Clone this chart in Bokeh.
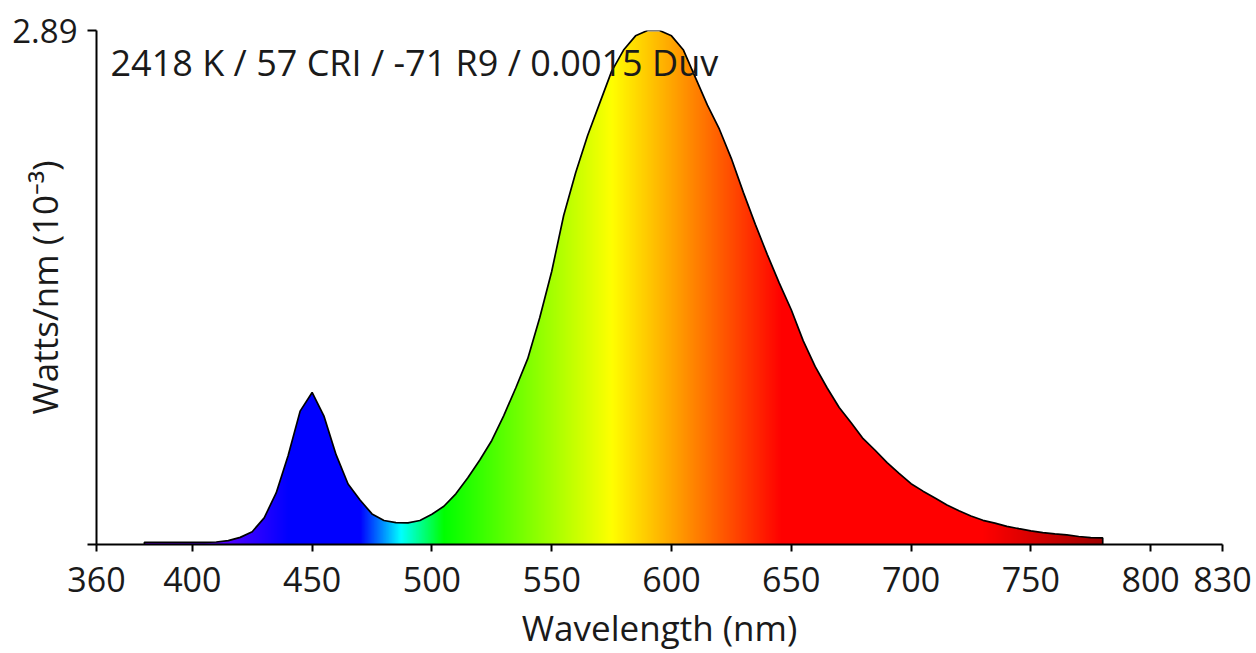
import numpy as np
from bokeh.plotting import figure
from bokeh.models import Range1d, FixedTicker, Label
from bokeh.embed import file_html
from bokeh.resources import INLINE

# ---------------- data ----------------
wavelengths = list(range(380, 785, 5))          # nm, 380 .. 780
watts = [
    0.012, 0.012, 0.012, 0.012, 0.012, 0.012, 0.014, 0.022,   # 380-415
    0.040, 0.072, 0.150, 0.290, 0.500, 0.750, 0.855, 0.720,   # 420-455
    0.505, 0.340, 0.250, 0.172, 0.135, 0.123, 0.122, 0.135,   # 460-495
    0.170, 0.215, 0.285, 0.375, 0.475, 0.585, 0.725, 0.880,   # 500-535
    1.045, 1.275, 1.535, 1.850, 2.090, 2.300, 2.480, 2.660,   # 540-575
    2.780, 2.860, 2.890, 2.890, 2.860, 2.780, 2.625, 2.470,   # 580-615
    2.335, 2.170, 1.980, 1.800, 1.630, 1.470, 1.320, 1.145,   # 620-655
    1.000, 0.880, 0.770, 0.685, 0.595, 0.530, 0.460, 0.400,   # 660-695
    0.342, 0.300, 0.262, 0.222, 0.190, 0.160, 0.136, 0.120,   # 700-735
    0.102, 0.089, 0.077, 0.067, 0.060, 0.054, 0.045, 0.039,   # 740-775
    0.037,                                                    # 780
]
x_ticks = [360, 400, 450, 500, 550, 600, 650, 700, 750, 800, 830]
y_ticks = [0, 2.89]
x_start, x_end = 360, 830
y_start, y_end = 0, 2.89
info_text = "2418 K / 57 CRI / -71 R9 / 0.0015 Duv"
x_title = "Wavelength (nm)"
y_title = "Watts/nm (10\u207b\u00b3)"

# ---------------- style ----------------
FONT = "Open Sans"
TXT = "#1a1a1a"
# spectral colour stops used for the gradient fill
stop_nm = [380, 415, 440, 470, 487, 505, 575, 646, 730, 780]
stop_rgb = [(120, 0, 255), (80, 0, 255), (0, 0, 255), (0, 0, 255), (0, 255, 255),
            (0, 255, 0), (255, 255, 0), (255, 0, 0), (255, 0, 0), (160, 0, 0)]

p = figure(width=1252, height=653, output_backend="svg", toolbar_location=None,
           x_range=Range1d(x_start, x_end), y_range=Range1d(y_start, y_end),
           min_border_left=96, min_border_right=30, min_border_top=30, min_border_bottom=107)
p.outline_line_color = None
p.grid.visible = False
p.background_fill_color = "white"
p.border_fill_color = "white"

# gradient image spanning the spectrum range
wl0, wl1 = wavelengths[0], wavelengths[-1]
grid = np.linspace(wl0, wl1, 4 * (wl1 - wl0) + 1)
rgb = np.array(stop_rgb, dtype=float)
img = np.empty((1, grid.size), dtype=np.uint32)
view = img.view(dtype=np.uint8).reshape((1, grid.size, 4))
for c in range(3):
    view[0, :, c] = np.round(np.interp(grid, stop_nm, rgb[:, c])).astype(np.uint8)
view[0, :, 3] = 255
p.image_rgba(image=[img], x=wl0, y=y_start, dw=wl1 - wl0, dh=(y_end - y_start) * 0.998)

# white mask above the curve (hides the gradient outside the spectrum)
top = y_end * 3
mask_x = [wl0 - 2, wl0 - 2] + wavelengths + [wl1 + 2, wl1 + 2]
mask_y = [top, watts[0]] + watts + [watts[-1], top]
p.patch(mask_x, mask_y, fill_color="white", line_color=None)

# outline of the spectrum
line_x = [wl0] + wavelengths + [wl1]
line_y = [0] + watts + [0]
p.line(line_x, line_y, line_color="black", line_width=1.7)

# axes
for ax in (p.xaxis, p.yaxis):
    ax.axis_line_color = "black"
    ax.axis_line_width = 2
    ax.major_tick_line_color = "black"
    ax.major_tick_line_width = 2
    ax.major_tick_in = 0
    ax.minor_tick_line_color = None
    ax.major_label_text_font = FONT
    ax.major_label_text_font_size = "34px"
    ax.major_label_text_color = TXT
    ax.axis_label_text_font = FONT
    ax.axis_label_text_font_size = "35px"
    ax.axis_label_text_font_style = "normal"
    ax.axis_label_text_color = TXT

p.xaxis.ticker = FixedTicker(ticks=x_ticks)
p.xaxis.major_tick_out = 7
p.xaxis.major_label_standoff = 15
p.xaxis.axis_label = x_title
p.xaxis.axis_label_standoff = 9

p.yaxis.ticker = FixedTicker(ticks=y_ticks)
p.yaxis.major_label_overrides = {0: ""}
p.yaxis.major_label_text_font_size = "33px"
p.yaxis.major_tick_out = 9
p.yaxis.major_label_standoff = 10
p.yaxis.axis_label = y_title
p.yaxis.axis_label_standoff = -59

# info text
p.add_layout(Label(x=14, y=482, x_units="screen", y_units="screen", text=info_text,
                   text_align="left", text_baseline="alphabetic",
                   text_font=FONT, text_font_size="36px", text_color=TXT))

open("out.html", "w").write(file_html(p, INLINE))
